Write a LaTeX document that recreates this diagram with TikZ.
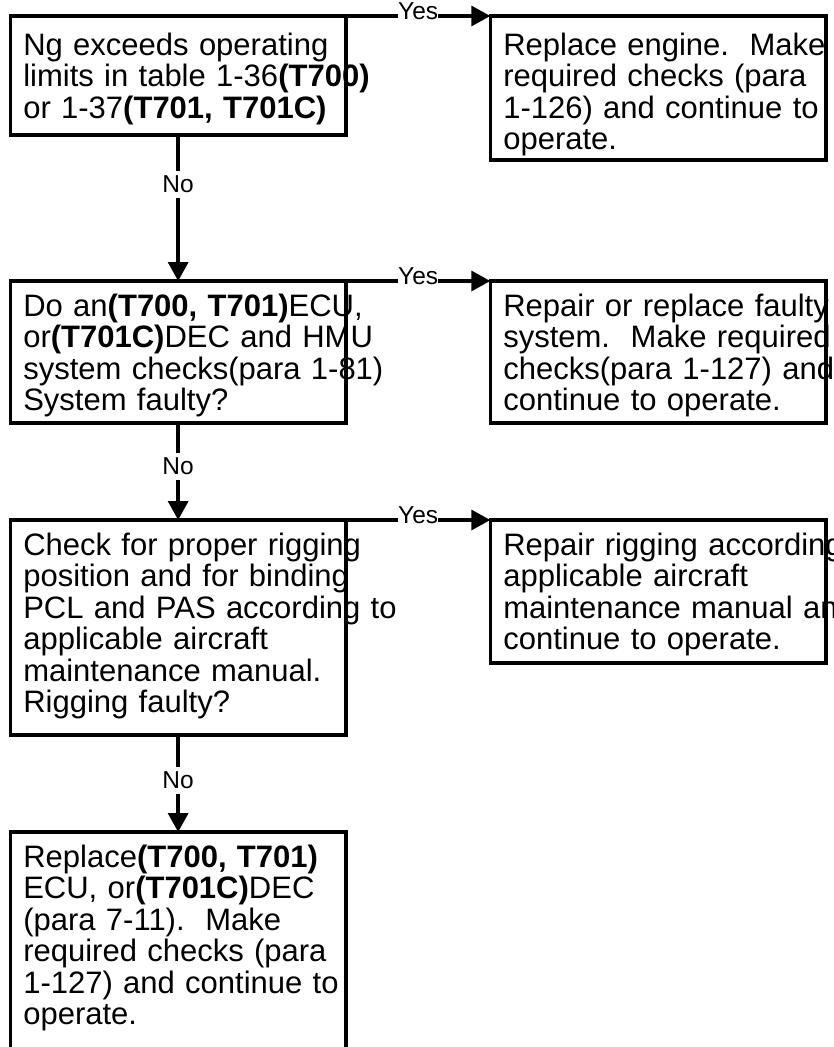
\documentclass[tikz,border=0pt]{standalone}
\usepackage{fontspec}
\setmainfont{Liberation Sans}
\usetikzlibrary{positioning,arrows.meta}

\begin{document}
\begin{tikzpicture}[
  x=1pt, y=1pt,
  font=\fontsize{31}{31.5}\selectfont,
  box/.style={draw, line width=3.5pt, outer sep=0pt, align=left, text width=309.7pt,
    inner xsep=13pt, inner ysep=12pt, text height=23pt},
  arr/.style={-{Triangle[width=20pt, length=19pt]}, line width=3.5pt},
  lab/.style={font=\fontsize{24.5}{24.5}\selectfont, fill=white, inner xsep=1pt, inner ysep=5pt},
  yes/.style={font=\fontsize{24.5}{24.5}\selectfont, fill=white, inner sep=0pt, anchor=base, yshift=-3pt}
]
\useasboundingbox (0,0) rectangle (833,-1047);
\clip (0,0) rectangle (833,-1047);

% questions down the left, actions on the right
\node[box, anchor=north west, text height=27pt, text depth=68pt] (ng) at (10.3,-16)
  {Ng exceeds operating\\ \mbox{limits in table 1-36\textbf{(T700)}}\\ \mbox{or 1-37\textbf{(T701, T701C)}}};
\node[box, right=144.3pt of ng.north east, anchor=north west, text height=27pt, text depth=93pt] (eng)
  {\mbox{Replace engine.\ \ Make}\\ required checks (para\\ \mbox{1-126) and continue to}\\ operate.};

\node[box, below=146pt of ng, text depth=95pt] (ecu)
  {\mbox{Do an\textbf{(T700, T701)}ECU,}\\ \mbox{or\textbf{(T701C)}DEC and HMU}\\ \mbox{system checks(para 1-81)}\\ System faulty?};
\node[box, right=144.3pt of ecu.north east, anchor=north west, text depth=95pt] (fix)
  {\mbox{Repair or replace faulty}\\ \mbox{system.\ \ Make required}\\ \mbox{checks(para 1-127) and}\\ continue to operate.};

\node[box, below=97pt of ecu, text depth=168pt] (rig)
  {\mbox{Check for proper rigging}\\ \mbox{position and for binding}\\ \mbox{PCL and PAS according to}\\ applicable aircraft\\ maintenance manual.\\ Rigging faulty?};
\node[box, right=144.3pt of rig.north east, anchor=north west, text depth=96pt] (rep)
  {\mbox{Repair rigging according to}\\ applicable aircraft\\ \mbox{maintenance manual and}\\ continue to operate.};

\node[box, below=97pt of rig, text depth=213pt] (dec)
  {\mbox{Replace\textbf{(T700, T701)}}\\ \mbox{ECU, or\textbf{(T701C)}DEC}\\ (para 7-11).\ \ Make\\ required checks (para\\ \mbox{1-127) and continue to}\\ operate.};

\draw[arr] (ng.north east) -- node[yes] {Yes} (eng.north west);
\draw[arr] (ecu.north east) -- node[yes] {Yes} (fix.north west);
\draw[arr] (rig.north east) -- node[yes] {Yes} (rep.north west);

\draw[arr] (ng) -- node[lab, pos=.34] {No} (ecu);
\draw[arr] (ecu) -- node[lab, pos=.45] {No} (rig);
\draw[arr] (rig) -- node[lab, pos=.47] {No} (dec);
\end{tikzpicture}
\end{document}
